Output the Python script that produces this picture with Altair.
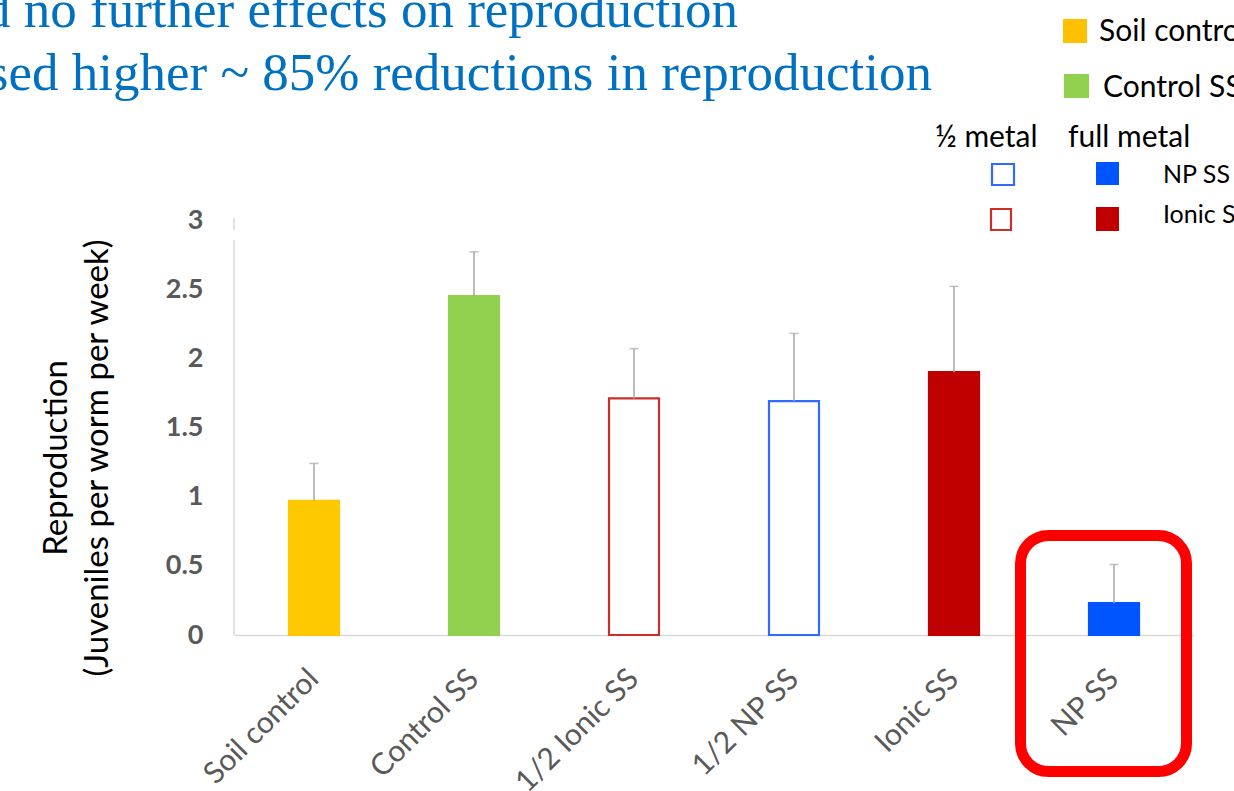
import altair as alt
import pandas as pd

# ---------------- data ----------------
categories = ["Soil control", "Control SS", "1/2 Ionic SS", "1/2 NP SS", "Ionic SS", "NP SS"]
means = [0.97, 2.45, 1.71, 1.69, 1.90, 0.23]
errors = [0.27, 0.32, 0.36, 0.49, 0.62, 0.28]
fill_colors = ["#FFC900", "#92D050", "#FFFFFF", "#FFFFFF", "#C00000", "#0055FF"]
stroke_colors = ["#FFC900", "#92D050", "#C9302C", "#2F6BFF", "#C00000", "#0055FF"]
y_ticks = [0, 0.5, 1, 1.5, 2, 2.5, 3]
title_lines = ["d no further effects on reproduction",
               "sed higher ~ 85% reductions in reproduction"]
y_title = ["Reproduction", "(Juveniles per worm per week)"]
legend_top = ["Soil control", "Control SS"]
legend_top_colors = ["#FFC000", "#92D050"]
legend_headers = ["½ metal", "full metal"]
legend_rows = ["NP SS", "Ionic SS"]
legend_row_colors = ["#0055FF", "#C00000"]
legend_row_outline = ["#2F6BFF", "#C9302C"]

df = pd.DataFrame({"cat": categories, "mean": means, "err": errors})
df["upper"] = df["mean"] + df["err"]

SANS = "Lato"
GRAY = "#595959"
ERR = "#A6A6A6"
AXIS_LINE = "#D9D9D9"

x_enc = alt.X(
    "cat:N",
    sort=categories,
    scale=alt.Scale(domain=categories, paddingInner=0, paddingOuter=0),
    axis=alt.Axis(
        title=None, labelAngle=-45, labelAlign="right", labelBaseline="middle",
        labelFont=SANS, labelFontSize=30, labelColor=GRAY, labelPadding=39,
        ticks=False, domainColor=AXIS_LINE, domainWidth=1.5, grid=False,
    ),
)
y_scale = alt.Scale(domain=[0, 3], nice=False, zero=True)
y_enc = alt.Y(
    "mean:Q",
    scale=y_scale,
    axis=alt.Axis(
        title=None, values=y_ticks, format="~g", labelFont=SANS, labelFontSize=27,
        labelFontWeight="bold", labelColor=GRAY, labelPadding=31, ticks=False,
        grid=False, domain=False,
    ),
)

base = alt.Chart(df)
bars = base.mark_bar(size=50, strokeWidth=2.2).encode(
    x=x_enc,
    y=y_enc,
    fill=alt.Fill("cat:N", scale=alt.Scale(domain=categories, range=fill_colors), legend=None),
    stroke=alt.Stroke("cat:N", scale=alt.Scale(domain=categories, range=stroke_colors), legend=None),
)
err_rules = base.mark_rule(color=ERR, strokeWidth=1.5).encode(
    x=alt.X("cat:N", sort=categories), y=alt.Y("mean:Q", scale=y_scale), y2="upper:Q"
)
err_caps = base.mark_tick(color=ERR, size=9, thickness=1.5).encode(
    x=alt.X("cat:N", sort=categories), y=alt.Y("upper:Q", scale=y_scale)
)

dummy = pd.DataFrame({"d": [0]})


def text(txt, x, y, size, color="black", font=SANS, align="left", baseline="alphabetic",
         weight="normal", angle=0, line_height=None):
    kw = dict(text=txt, fontSize=size, color=color, font=font, align=align,
              baseline=baseline, fontWeight=weight, angle=angle)
    if line_height is not None:
        kw["lineHeight"] = line_height
    return alt.Chart(dummy).mark_text(**kw).encode(x=alt.value(x), y=alt.value(y))


def box(x, x2, y, y2, fill, stroke, sw, radius=0, fill_opacity=1):
    return alt.Chart(dummy).mark_rect(
        fill=fill, stroke=stroke, strokeWidth=sw, cornerRadius=radius, fillOpacity=fill_opacity
    ).encode(x=alt.value(x), x2=alt.value(x2), y=alt.value(y), y2=alt.value(y2))


def vline(x, y, y2, color, width):
    return alt.Chart(dummy).mark_rule(color=color, strokeWidth=width).encode(
        x=alt.value(x), y=alt.value(y), y2=alt.value(y2)
    )


# pixel positions are relative to the plot area's top-left corner
layers = [
    vline(0, -2, 10, AXIS_LINE, 1.5),   # y axis line, with the small break near its top
    vline(0, 20, 415, AXIS_LINE, 1.5),
    bars, err_rules, err_caps,
]

# slide heading (cropped at the left / top)
layers.append(text(title_lines[0], 504, -193, 53, color="#0070C0", font="Liberation Serif", align="right"))
layers.append(text(title_lines[1], 698, -130, 53, color="#0070C0", font="Liberation Serif", align="right"))

# y axis title
layers.append(text(y_title, -177, 238, 33, align="center", baseline="middle", angle=270, line_height=41))

# custom legend
layers.append(box(829, 853, -201, -177, legend_top_colors[0], legend_top_colors[0], 0))
layers.append(box(830, 855, -146, -122, legend_top_colors[1], legend_top_colors[1], 0))
layers.append(text(legend_top[0], 865, -179, 30))
layers.append(text(legend_top[1], 869, -123, 30))
layers.append(text(legend_headers[0], 701, -73, 30))
layers.append(text(legend_headers[1], 834, -73, 30))
layers.append(box(758, 780, -56, -35, "white", legend_row_outline[0], 2.2))
layers.append(box(862, 885, -58, -35, legend_row_colors[0], legend_row_colors[0], 0))
layers.append(box(757, 777, -11, 10, "white", legend_row_outline[1], 2.2))
layers.append(box(862, 885, -13, 11, legend_row_colors[1], legend_row_colors[1], 0))
layers.append(text(legend_rows[0], 929, -37, 25))
layers.append(text(legend_rows[1], 929, 3, 25))

# red highlight around the last bar
layers.append(box(786.5, 952.5, 315.5, 551.5, "white", "#FF0000", 11, radius=28, fill_opacity=0))

chart = alt.layer(*layers).properties(
    width=960,
    height=415,
    autosize=alt.AutoSizeParams(type="none"),
    padding={"left": 234, "top": 220, "right": 40, "bottom": 156},
    background="white",
).configure_view(stroke=None)

chart.save("out.html", embed_options={"renderer": "svg", "actions": False})
